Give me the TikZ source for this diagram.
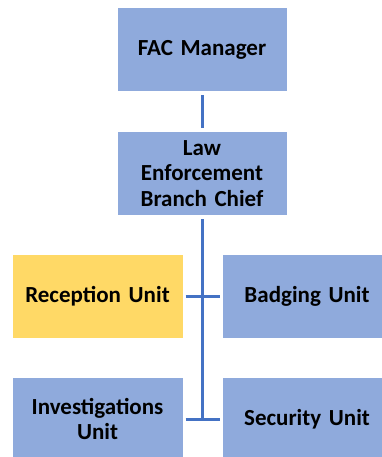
\documentclass[tikz,border=0pt]{standalone}
\usepackage{fontspec}
\setmainfont{Carlito}
\definecolor{boxblue}{HTML}{8FAADC}
\definecolor{boxyellow}{HTML}{FFD966}
\definecolor{linkblue}{HTML}{4472C4}
\begin{document}
\begin{tikzpicture}[x=1pt,y=-1pt,
  unitbox/.style={draw=white,line width=1pt,fill=boxblue,minimum width=170pt,minimum height=84pt,
    text width=165pt,align=center,font=\fontsize{23}{25.5}\selectfont\bfseries,inner sep=0pt},
  link/.style={draw=linkblue,line width=3pt}]
\useasboundingbox (0,0) rectangle (381,457);
\node[unitbox] (fac) at (202,50) {FAC Manager};
\node[unitbox] (law) at (202,173.5) {Law\\Enforcement\\Branch Chief};
\node[unitbox,fill=boxyellow,minimum width=171pt] (rec) at (97.5,296) {Reception Unit};
\node[unitbox] (badge) at (307,296) {Badging Unit};
\node[unitbox,minimum width=171pt] (inv) at (97.5,419) {Investigations\\Unit};
\node[unitbox] (sec) at (307,419) {Security Unit};
\coordinate (bend) at (202,420);
\draw[link,shorten <=3pt,shorten >=3pt] (fac.south) -- (law.north);
\draw[link,shorten <=3pt] (law.south) -- (bend);
\draw[link,shorten <=2pt,shorten >=2pt] (rec.east) -- (badge.west);
\draw[link,shorten <=2pt,shorten >=2pt] (inv.east) -- (sec.west);
\end{tikzpicture}
\end{document}
